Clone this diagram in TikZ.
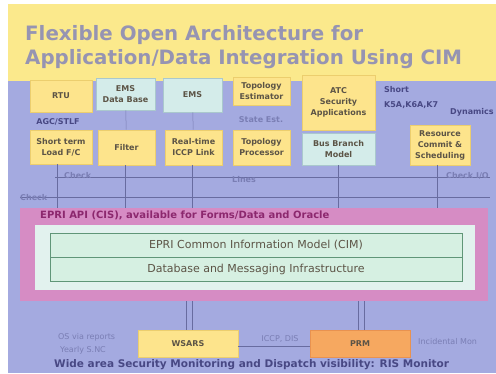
\documentclass[tikz,border=0pt]{standalone}
\usepackage{fontspec}
\setsansfont{DejaVu Sans}
\usepackage{xcolor}
\usetikzlibrary{positioning}

\definecolor{titleband}{RGB}{251,233,140}
\definecolor{slideblue}{RGB}{164,170,224}
\definecolor{titletext}{RGB}{150,148,178}
\definecolor{boxyellow}{RGB}{253,228,140}
\definecolor{boxline}{RGB}{236,206,110}
\definecolor{boxcyan}{RGB}{212,236,234}
\definecolor{cyanline}{RGB}{170,200,205}
\definecolor{boxtext}{RGB}{92,84,70}
\definecolor{lbltext}{RGB}{122,126,180}
\definecolor{darklbl}{RGB}{72,72,132}
\definecolor{busline}{RGB}{104,108,160}
\definecolor{framepink}{RGB}{214,140,196}
\definecolor{framelbl}{RGB}{140,40,110}
\definecolor{innerfill}{RGB}{226,242,238}
\definecolor{cimfill}{RGB}{214,240,226}
\definecolor{cimline}{RGB}{96,150,120}
\definecolor{boxorange}{RGB}{246,168,96}
\definecolor{orangeline}{RGB}{232,146,80}

\tikzset{
  apptitle/.style={font=\sffamily\bfseries\fontsize{19.8}{22}\selectfont, text=titletext, inner sep=0pt},
  appbox/.style={draw=boxline, fill=boxyellow, text=boxtext, line width=0.8pt,
    font=\sffamily\bfseries\fontsize{8}{11}\selectfont, align=center, inner sep=1pt},
  databox/.style={appbox, draw=cyanline, fill=boxcyan},
  cimrow/.style={draw=cimline, fill=cimfill, text=boxtext, line width=0.6pt,
    font=\sffamily\fontsize{11}{13}\selectfont, minimum width=412pt, minimum height=24pt},
  lbl/.style={text=lbltext, font=\sffamily\bfseries\fontsize{8}{9}\selectfont, inner sep=0pt, align=left},
  bus/.style={draw=busline, line width=0.5pt}
}

\begin{document}
\begin{tikzpicture}[x=1pt,y=-1pt]
  \useasboundingbox (0,0) rectangle (496,373);
  \fill[white] (0,0) rectangle (496,373);
  % slide
  \fill[slideblue] (8,80) rectangle (496,373);
  \fill[titleband] (8,4) rectangle (496,81);

  \node[apptitle, anchor=base west] (title1) at (25,40) {Flexible Open Architecture for};
  \node[apptitle, anchor=base west] (title2) at (25,64) {Application/Data Integration Using CIM};

  % bus lines
  \coordinate (busA) at (55,177);
  \coordinate (busB) at (490,177);
  \coordinate (busC) at (20,197);
  \coordinate (busD) at (490,197);
  \draw[bus] (busA) -- (busB);
  \draw[bus] (busC) -- (busD);

  % top row
  \node[appbox, minimum width=62pt, minimum height=32pt] (rtu) at (61,96) {RTU};
  \node[databox, minimum width=59pt, minimum height=32pt] (emsdb) at (125.5,94) {EMS\\Data Base};
  \node[databox, minimum width=59pt, minimum height=34pt] (ems) at (192.5,95) {EMS};
  \node[appbox, minimum width=57pt, minimum height=28pt] (topest) at (261.5,91) {Topology\\Estimator};
  \node[appbox, minimum width=73pt, minimum height=55pt] (atc) at (338.5,102.5) {ATC\\Security\\Applications};

  % second row
  \node[appbox, minimum width=62pt, minimum height=34pt] (stlf) at (61,147) {Short term\\Load F/C};
  \node[appbox, minimum width=57pt, minimum height=35pt] (filter) at (126.5,147.5) {Filter};
  \node[appbox, minimum width=57pt, minimum height=35pt] (iccp) at (193.5,147.5) {Real-time\\ICCP Link};
  \node[appbox, minimum width=57pt, minimum height=35pt] (topproc) at (261.5,147.5) {Topology\\Processor};
  \node[databox, minimum width=73pt, minimum height=32pt] (busbranch) at (338.5,149) {Bus Branch\\Model};
  \node[appbox, minimum width=60pt, minimum height=40pt] (rcs) at (440,145) {Resource\\Commit \&\\Scheduling};

  \draw[bus, draw=lbltext] (emsdb) -- (filter);
  \draw[bus, draw=lbltext] (ems) -- (iccp);

  % labels round the boxes
  \node[lbl, text=darklbl] (agc) at (58,122) {AGC/STLF};
  \node[lbl] (stest) at (261,120) {State Est.};
  \node[lbl, text=darklbl, anchor=west] (short) at (384,90) {Short};
  \node[lbl, text=darklbl, anchor=west] (kfa) at (384,105) {K5A,K6A,K7};
  \node[lbl, text=darklbl, anchor=west] (dyn) at (450,112) {Dynamics};
  \node[lbl, anchor=west] (chk1) at (64,176) {Check};
  \node[lbl, anchor=west] (lines) at (232,180) {Lines};
  \node[lbl, anchor=west] (chk2) at (446,176) {Check I/O};
  \node[lbl, anchor=west] (chk3) at (20,198) {Check};

  % API frame
  \node[fill=framepink, minimum width=468pt, minimum height=93pt] (frame) at (254,254.5) {};
  \node[anchor=west, text=framelbl, font=\sffamily\bfseries\fontsize{10}{12}\selectfont, inner sep=0pt]
    (api) at (40,215) {EPRI API (CIS), available for Forms/Data and Oracle};
  \node[fill=innerfill, minimum width=440pt, minimum height=65pt] (inner) at (255,257.5) {};
  \node[cimrow] (cim) at (256,245) {EPRI Common Information Model (CIM)};
  \node[cimrow, below=0pt of cim] (dbmsg) {Database and Messaging Infrastructure};

  % drops from the boxes to the frame
  \foreach \b/\dx in {stlf/-4, filter/-1, iccp/-1, busbranch/0, rcs/-3}
    \draw[bus] ([xshift=\dx pt]\b.south) -- ([xshift=\dx pt]\b.south |- frame.north);

  % bottom row
  \node[appbox, minimum width=100pt, minimum height=27pt] (wsars) at (188,343.5) {WSARS};
  \node[appbox, draw=orangeline, fill=boxorange, minimum width=100pt, minimum height=27pt] (prm) at (360,343.5) {PRM};
  \draw[bus] ([xshift=-2pt]wsars.north) -- ([xshift=-2pt]wsars.north |- frame.south);
  \draw[bus] ([xshift=4pt]wsars.north) -- ([xshift=4pt]wsars.north |- frame.south);
  \draw[bus] ([xshift=-2pt]prm.north) -- ([xshift=-2pt]prm.north |- frame.south);
  \draw[bus] ([xshift=4pt]prm.north) -- ([xshift=4pt]prm.north |- frame.south);
  \draw[bus] ([yshift=-3pt]wsars.east) -- ([yshift=-3pt]prm.west);

  \node[lbl, anchor=west, font=\sffamily\fontsize{8}{9}\selectfont] (osrep) at (58,337) {OS via reports};
  \node[lbl, anchor=west, font=\sffamily\fontsize{8}{9}\selectfont] (yearly) at (60,350) {Yearly S.NC};
  \node[lbl, font=\sffamily\fontsize{8}{9}\selectfont] (iccpdis) at (280,339) {ICCP, DIS};
  \node[lbl, anchor=west, font=\sffamily\fontsize{8}{9}\selectfont] (incid) at (418,342) {Incidental Mon};
  \node[anchor=west, text=darklbl, font=\sffamily\bfseries\fontsize{10.5}{12}\selectfont, inner sep=0pt]
    (wide) at (54,365) {Wide area Security Monitoring and Dispatch visibility: RIS Monitor};
\end{tikzpicture}
\end{document}
